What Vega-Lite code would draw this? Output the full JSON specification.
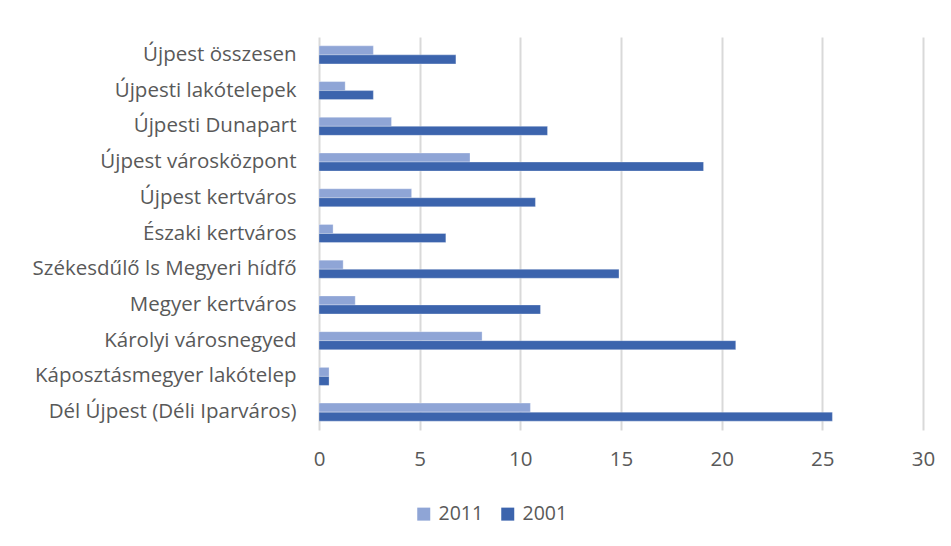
{
  "$schema": "https://vega.github.io/schema/vega-lite/v6.json",
  "width": 604,
  "height": 393,
  "autosize": {"type": "none"},
  "padding": {"left": 319, "top": 37, "right": 28, "bottom": 116},
  "background": "white",
  "config": {
    "view": {"stroke": null},
    "font": "Open Sans",
    "axis": {"labelFont": "Open Sans", "labelColor": "#595959"}
  },
  "data": {
    "values": [
      {"area": "Újpest összesen", "year": "2011", "value": 2.7},
      {"area": "Újpest összesen", "year": "2001", "value": 6.8},
      {"area": "Újpesti lakótelepek", "year": "2011", "value": 1.3},
      {"area": "Újpesti lakótelepek", "year": "2001", "value": 2.7},
      {"area": "Újpesti Dunapart", "year": "2011", "value": 3.6},
      {"area": "Újpesti Dunapart", "year": "2001", "value": 11.35},
      {"area": "Újpest városközpont", "year": "2011", "value": 7.5},
      {"area": "Újpest városközpont", "year": "2001", "value": 19.1},
      {"area": "Újpest kertváros", "year": "2011", "value": 4.6},
      {"area": "Újpest kertváros", "year": "2001", "value": 10.75},
      {"area": "Északi kertváros", "year": "2011", "value": 0.7},
      {"area": "Északi kertváros", "year": "2001", "value": 6.3},
      {"area": "Székesdűlő ls Megyeri hídfő", "year": "2011", "value": 1.2},
      {"area": "Székesdűlő ls Megyeri hídfő", "year": "2001", "value": 14.9},
      {"area": "Megyer kertváros", "year": "2011", "value": 1.8},
      {"area": "Megyer kertváros", "year": "2001", "value": 11.0},
      {"area": "Károlyi városnegyed", "year": "2011", "value": 8.1},
      {"area": "Károlyi városnegyed", "year": "2001", "value": 20.7},
      {"area": "Káposztásmegyer lakótelep", "year": "2011", "value": 0.5},
      {"area": "Káposztásmegyer lakótelep", "year": "2001", "value": 0.5},
      {"area": "Dél Újpest (Déli Iparváros)", "year": "2011", "value": 10.5},
      {"area": "Dél Újpest (Déli Iparváros)", "year": "2001", "value": 25.5}
    ]
  },
  "mark": {"type": "bar", "stroke": "white", "strokeWidth": 0.5, "strokeOpacity": 0.6},
  "encoding": {
    "y": {
      "field": "area",
      "type": "nominal",
      "sort": null,
      "scale": {"paddingInner": 0.495, "paddingOuter": 0.2475},
      "axis": {
        "title": null,
        "domain": false,
        "ticks": false,
        "grid": false,
        "labelFontSize": 20.5,
        "labelPadding": 23,
        "labelLimit": 320
      }
    },
    "yOffset": {"field": "year", "type": "nominal", "sort": ["2011", "2001"]},
    "x": {
      "field": "value",
      "type": "quantitative",
      "scale": {"domain": [0, 30]},
      "axis": {
        "title": null,
        "values": [0, 5, 10, 15, 20, 25, 30],
        "domain": false,
        "ticks": false,
        "grid": true,
        "gridColor": "#D9D9D9",
        "gridWidth": 2,
        "labelFontSize": 20.5,
        "labelFlush": false,
        "labelPadding": 19
      }
    },
    "color": {
      "field": "year",
      "type": "nominal",
      "sort": ["2011", "2001"],
      "scale": {"domain": ["2011", "2001"], "range": ["#8FA5D6", "#3C64AD"]},
      "legend": {
        "title": null,
        "orient": "none",
        "direction": "horizontal",
        "legendX": 95,
        "legendY": 467,
        "padding": 0,
        "symbolType": "square",
        "symbolSize": 169,
        "symbolStrokeWidth": 0,
        "labelFontSize": 19.5,
        "labelColor": "#595959",
        "labelFont": "Open Sans",
        "columnPadding": 14,
        "labelOffset": 5
      }
    }
  }
}
